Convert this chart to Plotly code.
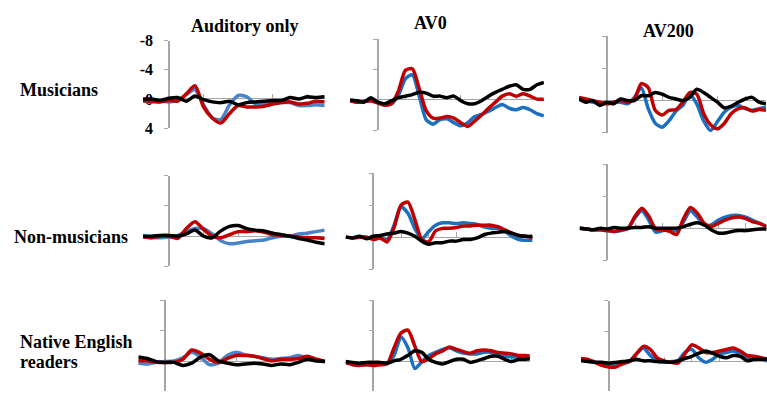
import plotly.graph_objects as go

W, H = 767, 400

# ---------------- data (time in ms, amplitude in microvolts, negative up) ----------------
T_AUD = list(range(-150, 901, 50))
T_AV_LONG = list(range(-100, 601, 25))
T_AV = list(range(-100, 576, 25))

ROW_LABELS = ["Musicians", "Non-musicians", "Native English", "readers"]
COL_TITLES = ["Auditory only", "AV0", "AV200"]
Y_TICKS = [-8, -4, 0, 4]
Y_TICK_TEXT = ["-8", "-4", "0", "4"]
X_TICKS_AUD = [200, 400, 600, 800]
X_TICKS_AV = [100, 200, 300, 400, 500]

MUS_AUD_BLUE = [0.3, 0.4, 0.3, 0.4, 0.2, -0.6, -1.3, 0.8, 2.6, 2.8, 0.8, -0.5, -0.3, 0.7, 0.7, 0.6, 0.5, 0.5, 0.9, 0.9, 0.8, 0.9]
MUS_AUD_RED = [0.2, 0.3, 0.4, 0.2, 0.3, -0.7, -1.8, 1.1, 2.6, 3.3, 2.0, 0.9, 1.1, 1.1, 1.0, 0.7, 0.5, 0.4, 0.7, 0.6, 0.3, 0.4]
MUS_AUD_BLACK = [0.0, 0.0, 0.2, -0.1, -0.2, 0.3, -0.4, 0.1, 0.4, 0.5, 0.3, 0.8, 0.5, 0.4, 0.3, 0.2, 0.2, -0.2, 0.0, -0.3, -0.2, -0.3]

MUS_AV0_BLUE = [0.1, 0.3, 0.2, 0.1, 0.3, 0.6, 0.5, -0.6, -2.8, -3.3, -0.5, 2.6, 3.2, 2.6, 2.5, 3.0, 3.4, 3.0, 2.2, 1.9, 1.5, 1.0, 0.6, 1.1, 1.3, 1.0, 1.3, 1.8, 2.1]
MUS_AV0_RED = [0.1, 0.3, 0.2, 0.1, 0.4, 0.7, 0.5, -1.2, -3.9, -4.1, -1.5, 1.4, 2.4, 2.4, 2.2, 2.4, 3.0, 3.5, 2.8, 2.0, 1.1, 0.3, -0.5, -0.8, -0.5, -0.8, -0.5, -0.1, -0.1]
MUS_AV0_BLACK = [0.0, 0.1, 0.3, -0.3, 0.3, 0.5, 0.1, -0.3, -0.5, -0.7, -1.0, -0.9, -0.5, -0.5, -0.3, -0.5, 0.1, 0.5, 0.5, 0.1, -0.5, -1.0, -1.4, -1.8, -2.0, -1.4, -1.4, -2.0, -2.3]

MUS_AV200_BLUE = [-0.2, 0.0, 0.2, 0.4, 0.3, 0.2, 0.2, 0.4, -0.4, -1.6, 1.0, 2.8, 3.3, 2.5, 1.3, 0.6, -0.8, 0.4, 2.5, 3.7, 2.6, 1.4, 0.8, 0.6, 1.0, 1.2, 1.0, 0.8]
MUS_AV200_RED = [-0.4, -0.2, 0.0, 0.2, 0.4, 0.2, 0.0, 0.2, -0.2, -2.1, -1.6, 1.2, 1.8, 1.2, 1.1, 0.2, -1.0, -0.8, 1.6, 3.0, 3.5, 2.8, 1.6, 1.0, 0.9, 1.3, 1.1, 1.2]
MUS_AV200_BLACK = [-0.2, 0.2, 0.0, 0.6, 0.2, 0.4, -0.2, 0.0, 0.0, -0.6, -0.6, -1.0, -0.8, -0.4, -0.2, 0.0, -0.4, -1.4, -1.0, -0.4, 0.2, 0.9, 0.7, 0.2, -0.2, -0.4, 0.2, 0.4]

NON_AUD_BLUE = [-0.1, 0.2, 0.2, 0.1, -0.1, -0.6, -1.0, -1.0, -0.3, 0.6, 1.0, 0.9, 0.7, 0.6, 0.5, 0.2, 0.0, 0.0, -0.3, -0.4, -0.6, -0.8]
NON_AUD_RED = [0.1, 0.2, 0.0, 0.0, 0.3, -1.0, -1.9, -0.9, 0.0, 0.2, -0.2, -0.6, -0.6, -0.7, -0.5, -0.2, -0.1, 0.0, 0.1, 0.2, 0.2, 0.3]
NON_AUD_BLACK = [0.0, 0.0, -0.1, -0.1, 0.0, -0.3, -0.8, 0.0, 0.2, -0.7, -1.3, -1.4, -1.0, -0.8, -0.7, -0.4, -0.2, 0.0, 0.3, 0.5, 0.8, 1.0]

NON_AV0_BLUE = [0.0, 0.1, 0.0, 0.0, 0.2, 0.1, 0.3, -1.5, -3.8, -3.0, -1.1, 0.2, -0.7, -1.5, -1.8, -1.8, -1.7, -1.8, -1.7, -1.6, -1.3, -1.1, -1.1, -0.7, -0.1, 0.3, 0.4, 0.4]
NON_AV0_RED = [0.0, 0.1, 0.0, 0.0, 0.3, 0.1, 0.6, -1.2, -4.0, -4.4, -2.2, 0.3, 0.6, -0.8, -1.1, -1.1, -1.2, -1.4, -1.4, -1.5, -1.5, -1.5, -1.3, -0.9, -0.5, -0.2, -0.1, 0.1]
NON_AV0_BLACK = [0.0, 0.1, -0.1, 0.2, -0.1, -0.2, -0.4, -0.5, -0.7, -0.5, -0.1, 0.5, 0.9, 0.7, 0.7, 0.5, 0.5, 0.3, 0.3, 0.1, -0.3, -0.5, -0.6, -0.7, -0.5, -0.2, -0.1, -0.1]

NON_AV200_BLUE = [0.0, 0.1, 0.2, 0.2, 0.3, 0.4, 0.3, 0.0, -1.3, -2.2, -1.0, 0.5, 0.3, 0.2, 0.3, -0.8, -2.2, -1.4, -0.4, -0.4, -1.0, -1.4, -1.6, -1.6, -1.4, -1.0, -0.6, -0.2]
NON_AV200_RED = [0.0, 0.1, 0.2, 0.2, 0.3, 0.4, 0.2, 0.0, -1.5, -2.5, -1.5, 0.1, 0.2, 0.4, 0.8, -1.2, -2.6, -1.9, -0.6, -0.2, -0.6, -1.0, -1.3, -1.4, -1.2, -0.8, -0.6, -0.2]
NON_AV200_BLACK = [0.0, 0.1, 0.2, 0.0, 0.1, -0.1, 0.0, 0.0, -0.1, -0.1, -0.2, 0.0, 0.0, 0.0, 0.0, -0.2, -0.5, -0.7, -0.4, 0.2, 0.6, 0.6, 0.4, 0.3, 0.3, 0.2, 0.1, 0.1]

NAT_AUD_BLUE = [0.2, 0.3, 0.1, 0.0, -0.1, -0.5, -1.2, -0.6, 0.4, 0.2, -0.8, -1.2, -0.9, -0.7, -0.5, -0.3, -0.4, -0.5, -0.8, -0.4, -0.1, 0.0]
NAT_AUD_RED = [-0.1, -0.1, 0.1, 0.1, 0.1, -0.3, -1.5, -1.1, -0.3, 0.1, -0.4, -0.8, -0.8, -0.7, -0.4, -0.1, -0.3, -0.3, -0.4, -0.7, -0.3, 0.0]
NAT_AUD_BLACK = [-0.6, -0.4, 0.0, 0.1, 0.1, 0.5, 0.2, -0.6, -0.9, -0.1, 0.2, 0.4, 0.3, 0.2, 0.3, 0.5, 0.3, 0.4, 0.1, -0.3, -0.1, 0.0]

NAT_AV0_BLUE = [0.1, 0.3, 0.4, 0.4, 0.4, 0.3, 0.2, -0.8, -3.2, -1.8, 0.9, 0.0, -0.8, -1.2, -1.6, -1.8, -1.4, -1.1, -1.0, -1.0, -1.2, -1.2, -0.8, -0.7, -0.6, -0.6, -0.4, -0.4]
NAT_AV0_RED = [0.1, 0.4, 0.5, 0.4, 0.5, 0.4, 0.3, -1.8, -3.7, -4.1, -2.0, 0.0, -0.4, -1.0, -1.4, -1.9, -1.6, -1.3, -1.1, -1.4, -1.5, -1.4, -1.2, -1.1, -1.0, -0.8, -0.8, -0.7]
NAT_AV0_BLACK = [0.0, 0.1, 0.2, 0.1, 0.1, 0.1, 0.2, -0.1, -0.3, -0.8, -1.4, -1.2, -0.3, 0.1, 0.3, 0.0, -0.3, -0.3, 0.1, -0.1, -0.4, -0.7, -0.7, -0.3, 0.0, -0.3, -0.3, -0.4]

NAT_AV200_BLUE = [-0.2, -0.1, 0.0, 0.3, 0.4, 0.3, 0.1, -0.1, -1.0, -1.8, -0.8, -0.1, 0.1, 0.0, -0.1, -1.2, -1.6, -0.5, 0.1, -0.3, -1.0, -1.2, -1.4, -1.0, -0.6, -0.3, -0.3, -0.1]
NAT_AV200_RED = [-0.4, -0.3, 0.1, 0.5, 0.7, 0.7, 0.3, 0.0, -1.0, -2.0, -1.6, -0.5, -0.1, 0.1, 0.2, -1.0, -2.2, -1.8, -1.2, -1.2, -1.4, -1.6, -1.8, -1.4, -0.8, -0.7, -0.5, -0.3]
NAT_AV200_BLACK = [-0.1, 0.0, 0.1, 0.1, 0.2, 0.1, 0.0, -0.1, -0.3, -0.1, -0.1, 0.0, 0.0, 0.1, -0.1, -0.4, -0.7, -1.1, -1.4, -1.1, -0.7, -0.5, -0.8, -0.7, -0.1, -0.3, -0.3, -0.3]

PANELS = [
    (T_AUD, MUS_AUD_BLUE, MUS_AUD_RED, MUS_AUD_BLACK),
    (T_AV_LONG, MUS_AV0_BLUE, MUS_AV0_RED, MUS_AV0_BLACK),
    (T_AV, MUS_AV200_BLUE, MUS_AV200_RED, MUS_AV200_BLACK),
    (T_AUD, NON_AUD_BLUE, NON_AUD_RED, NON_AUD_BLACK),
    (T_AV, NON_AV0_BLUE, NON_AV0_RED, NON_AV0_BLACK),
    (T_AV, NON_AV200_BLUE, NON_AV200_RED, NON_AV200_BLACK),
    (T_AUD, NAT_AUD_BLUE, NAT_AUD_RED, NAT_AUD_BLACK),
    (T_AV, NAT_AV0_BLUE, NAT_AV0_RED, NAT_AV0_BLACK),
    (T_AV, NAT_AV200_BLUE, NAT_AV200_RED, NAT_AV200_BLACK),
]

# ---------------- panel geometry (pixels) ----------------
# ax: x pixel of t=0, top: y pixel of -8 uV, zero: y pixel of 0 uV, pxms: pixels per ms
GEOM = [
    dict(ax=169.0, top=34.0, zero=95.0, pxms=0.173, t0=-150, t1=900),
    dict(ax=377.7, top=32.7, zero=96.0, pxms=0.277, t0=-100, t1=600),
    dict(ax=606.7, top=29.3, zero=96.7, pxms=0.277, t0=-100, t1=575),
    dict(ax=169.0, top=175.0, zero=238.3, pxms=0.173, t0=-150, t1=900),
    dict(ax=373.3, top=172.7, zero=239.3, pxms=0.277, t0=-100, t1=575),
    dict(ax=607.3, top=163.3, zero=230.0, pxms=0.277, t0=-100, t1=575),
    dict(ax=165.0, top=305.0, zero=369.3, pxms=0.178, t0=-150, t1=900),
    dict(ax=373.3, top=305.0, zero=369.3, pxms=0.277, t0=-100, t1=565),
    dict(ax=608.7, top=305.7, zero=369.3, pxms=0.277, t0=-100, t1=575),
]

RED = "#c00000"
BLUE_AUD = "#4a84c8"
BLUE_AV = "#1b70c0"
BLACK = "#000000"
GRAY = "#a6a6a6"
SERIF = "Liberation Serif"

fig = go.Figure()
layout = dict(
    width=W, height=H, margin=dict(l=0, r=0, t=0, b=0),
    paper_bgcolor="white", plot_bgcolor="rgba(0,0,0,0)",
    showlegend=False, annotations=[],
)

for i, (g, (times, blue, red, black)) in enumerate(zip(GEOM, PANELS)):
    n = i + 1
    col = i % 3
    xname = "xaxis" if n == 1 else f"xaxis{n}"
    yname = "yaxis" if n == 1 else f"yaxis{n}"
    xref = "x" if n == 1 else f"x{n}"
    yref = "y" if n == 1 else f"y{n}"

    t0, t1 = g["t0"], g["t1"]
    left_px = g["ax"] + t0 * g["pxms"]
    right_px = g["ax"] + t1 * g["pxms"]
    if right_px > W:
        right_px = W
        t1 = (W - g["ax"]) / g["pxms"]
    scale = (g["zero"] - g["top"]) / 8.0
    bottom_px = g["top"] + 12 * scale
    if bottom_px > H:
        bottom_px = H
    y_bottom = (bottom_px - g["zero"]) / scale

    layout[xname] = dict(
        domain=[left_px / W, right_px / W], range=[t0, t1],
        anchor="free", position=1 - g["zero"] / H,
        showgrid=False, zeroline=False, showline=False, showticklabels=False,
        ticks="inside", ticklen=5, tickwidth=1, tickcolor=GRAY,
        tickvals=X_TICKS_AUD if col == 0 else X_TICKS_AV,
        layer="below traces",
    )
    layout[yname] = dict(
        domain=[1 - bottom_px / H, 1 - g["top"] / H], range=[y_bottom, -8],
        anchor="free", position=g["ax"] / W,
        showgrid=False, zeroline=True, zerolinecolor=GRAY, zerolinewidth=1,
        showline=True, linecolor=GRAY, linewidth=1.5,
        ticks="outside", ticklen=4, tickwidth=1, tickcolor=GRAY,
        tickvals=Y_TICKS, ticktext=Y_TICK_TEXT,
        showticklabels=(n == 1),
        tickfont=dict(family=SERIF, size=16, color="black", weight="bold"),
        ticklabelstandoff=8,
        layer="below traces",
    )

    blue_color = BLUE_AUD if col == 0 else BLUE_AV
    for vals, color in ((blue, blue_color), (red, RED), (black, BLACK)):
        fig.add_trace(go.Scatter(
            x=times, y=vals, mode="lines", xaxis=xref, yaxis=yref,
            line=dict(color=color, width=3.5, shape="spline", smoothing=0.7),
            hoverinfo="skip",
        ))

def label(text, x, y, xanchor="center"):
    layout["annotations"].append(dict(
        text=f"<b>{text}</b>", x=x / W, y=1 - y / H, xref="paper", yref="paper",
        xanchor=xanchor, yanchor="middle", showarrow=False,
        font=dict(family=SERIF, size=18, color="black"),
    ))

label(COL_TITLES[0], 245, 19)
label(COL_TITLES[1], 430, 16)
label(COL_TITLES[2], 668, 24)
label(ROW_LABELS[0], 18, 86, "left")
label(ROW_LABELS[1], 12, 239, "left")
label(ROW_LABELS[2], 18, 349, "left")
label(ROW_LABELS[3], 18, 370, "left")

fig.update_layout(**layout)
fig.write_html("out.html")
